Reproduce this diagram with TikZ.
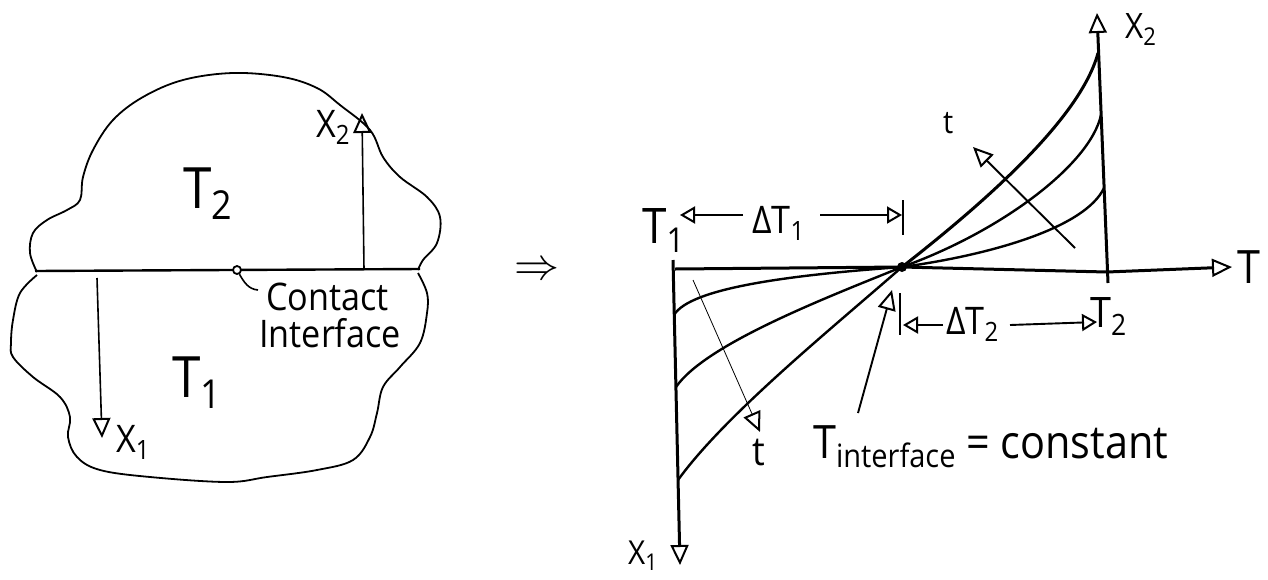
\documentclass[tikz,border=0pt]{standalone}
\usepackage{fontspec}
\setmainfont{Open Sans}[FakeStretch=0.9]
\usepackage{graphicx}
\usepackage{tikz}
\usetikzlibrary{arrows.meta}

\newcommand\lowsub[1]{\raisebox{-0.2em}{\scalebox{0.7}{#1}}}

\begin{document}
\begin{tikzpicture}[x=1pt, y=-1pt,
    blob/.style={line width=1.8pt, line join=round},
    axis/.style={line width=3pt},
    curve/.style={line width=2.4pt},
    dim/.style={line width=1.9pt},
    oarrow/.style={-{Triangle[open, length=20pt, width=18pt, line width=2pt]}},
    sarrow/.style={-{Triangle[open, length=15pt, width=17pt, line width=2pt]}},
    lbl/.style={inner sep=0pt, anchor=base west, font=\fontsize{#1}{#1}\selectfont},
    lbl/.default=38
]
\useasboundingbox (0,0) rectangle (1268,579);

% Left body
\draw[blob] plot[smooth, tension=0.6] coordinates {(37,272) (30,253) (33,233) (47,220) (67,210) (80,200) (83,177) (93,150) (113,120) (143,97) (183,80) (233,73) (283,77) (317,88) (340,105) (370,130) (383,157) (400,177) (427,197) (440,217) (437,243) (423,260) (418,270)};
\draw[blob] plot[smooth, tension=0.6] coordinates {(37,275) (20,293) (13,320) (11,343) (13,357) (33,377) (60,397) (70,417) (68,437) (77,457) (100,470) (150,477) (227,482) (267,477) (317,470) (353,460) (370,437) (377,413) (383,387) (400,367) (420,343) (427,313) (427,293) (418,273)};

\coordinate (ifL) at (35,271);
\coordinate (ifR) at (420,269);
\coordinate (x2Lbase) at (364,270);
\coordinate (x2Ltip) at (362,113);
\coordinate (x1Lbase) at (97,278);
\coordinate (x1Ltip) at (102,438);
\coordinate (sq) at (258,290);

\draw[line width=2.4pt] (ifL) -- (ifR);
\draw[line width=1.6pt, oarrow] (x2Lbase) -- (x2Ltip);
\draw[line width=1.6pt, oarrow] (x1Lbase) -- (x1Ltip);
\node[draw, circle, line width=1.8pt, fill=white, inner sep=0pt, minimum size=8pt] (contact) at (237,270) {};
\draw[line width=1.6pt] (contact) to[out=-60, in=175] (sq);

\node[lbl=57] (T2L) at (183,208) {T\lowsub{2}};
\node[lbl=57] (T1L) at (172,397) {T\lowsub{1}};
\node[lbl] (x2L) at (316,137) {X\lowsub{2}};
\node[lbl] (x1L) at (116,452) {X\lowsub{1}};
\node[lbl] (contactlbl) at (266,310) {Contact};
\node[lbl] (interfacelbl) at (259,347) {Interface};

\node (impl) at (537,271) {\scalebox{4.5}{$\Rightarrow$}};

% Right plot: axes
\coordinate (o) at (675,269);
\coordinate (x1top) at (673,260);
\coordinate (x1tip) at (680,565);
\coordinate (ip) at (902,267);
\coordinate (x2T) at (1107,272);
\coordinate (Ttip) at (1232,267);
\coordinate (x2base) at (1108,283);
\coordinate (x2tip) at (1097,13);

\draw[axis, oarrow] (x1top) -- (x1tip);
\draw[axis, oarrow] (o) -- (ip) -- (x2T) -- (Ttip);
\draw[axis, oarrow] (x2base) -- (x2tip);

% Profiles
\coordinate (c1) at (1098,53);
\coordinate (c2) at (1101,115);
\coordinate (c3) at (1104,188);
\coordinate (c4) at (674,315);
\coordinate (c5) at (676,387);
\coordinate (c6) at (678,480);

\draw[curve, line width=3pt] (ip) .. controls (980,206) and (1080,120) .. (c1);
\draw[curve] (ip) .. controls (1000,232) and (1090,165) .. (c2);
\draw[curve] (ip) .. controls (990,255) and (1085,228) .. (c3);
\draw[curve] (ip) .. controls (790,275) and (690,288) .. (c4);
\draw[curve] (ip) .. controls (820,300) and (705,345) .. (c5);
\draw[curve] (ip) .. controls (830,330) and (725,415) .. (c6);
\fill (ip) circle (5pt);

% Dimensions
\coordinate (d1L) at (680,215);
\coordinate (d1s) at (743,215);
\coordinate (d1e) at (820,215);
\coordinate (d1R) at (902,215);
\coordinate (k1a) at (903,200);
\coordinate (k1b) at (903,235);
\coordinate (d2L) at (903,325);
\coordinate (d2s) at (943,325);
\coordinate (d2e) at (1010,325);
\coordinate (d2R) at (1097,322);
\coordinate (k2a) at (900,293);
\coordinate (k2b) at (900,335);

\draw[dim, sarrow] (d1s) -- (d1L);
\draw[dim, sarrow] (d1e) -- (d1R);
\draw[dim] (k1a) -- (k1b);
\draw[dim, sarrow] (d2s) -- (d2L);
\draw[dim, sarrow] (d2e) -- (d2R);
\draw[dim] (k2a) -- (k2b);

% Time arrows and pointer
\coordinate (tLs) at (693,280);
\coordinate (tLe) at (760,432);
\coordinate (tRs) at (1075,248);
\coordinate (tRe) at (973,147);
\coordinate (ps) at (858,413);
\coordinate (pe) at (892,290);

\draw[line width=0.8pt, oarrow] (tLs) -- (tLe);
\draw[line width=1.9pt, oarrow] (tRs) -- (tRe);
\draw[line width=1.9pt, oarrow] (ps) -- (pe);

% Labels
\node[lbl=49] (T1R) at (642,243) {T\lowsub{1}};
\node[lbl] (dT1) at (752,233) {ΔT\lowsub{1}};
\node[lbl=46] (Tax) at (1237,283) {T};
\node[lbl=35] (x2R) at (1125,38) {X\lowsub{2}};
\node[lbl=42] (T2R) at (1090,327) {T\lowsub{2}};
\node[lbl] (dT2) at (946,334) {ΔT\lowsub{2}};
\node[lbl=33] (x1R) at (628,564) {X\lowsub{1}};
\node[lbl=40] (tL) at (752,465) {t};
\node[lbl=32] (tR) at (943,133) {t};
\node[lbl=46] (Tif) at (813,458) {T\lowsub{interface} = constant};

\end{tikzpicture}
\end{document}
